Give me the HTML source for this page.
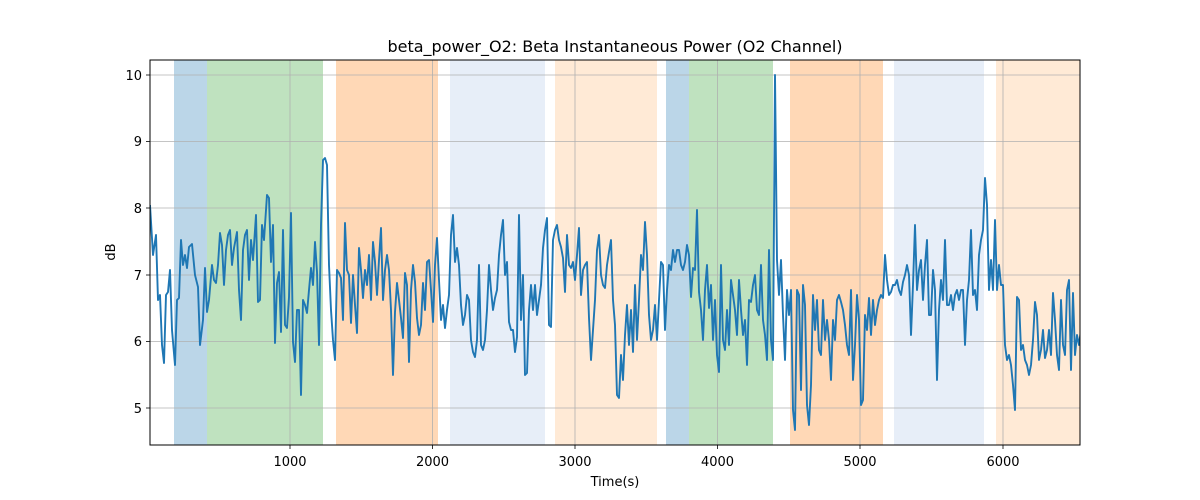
<!DOCTYPE html>
<html><head><meta charset="utf-8"><style>body{margin:0;background:#fff}svg{display:block}text{font-family:"DejaVu Sans","Liberation Sans",sans-serif;fill:#000}</style></head>
<body>
<svg width="1200" height="500" viewBox="0 0 1200 500" xmlns="http://www.w3.org/2000/svg">
<rect width="1200" height="500" fill="#fff"/>
<g>
<rect x="174" y="60" width="33" height="385" fill="#1f77b4" opacity="0.3"/>
<rect x="207" y="60" width="116" height="385" fill="#2ca02c" opacity="0.3"/>
<rect x="336" y="60" width="102" height="385" fill="#ff7f0e" opacity="0.3"/>
<rect x="450" y="60" width="95" height="385" fill="#aec7e8" opacity="0.3"/>
<rect x="555" y="60" width="102" height="385" fill="#ffbb78" opacity="0.3"/>
<rect x="666" y="60" width="23" height="385" fill="#1f77b4" opacity="0.3"/>
<rect x="689" y="60" width="84" height="385" fill="#2ca02c" opacity="0.3"/>
<rect x="790" y="60" width="93" height="385" fill="#ff7f0e" opacity="0.3"/>
<rect x="894" y="60" width="90" height="385" fill="#aec7e8" opacity="0.3"/>
<rect x="996" y="60" width="84" height="385" fill="#ffbb78" opacity="0.3"/>
</g>
<g stroke="#b0b0b0" stroke-width="0.8">
<line x1="290" y1="60" x2="290" y2="445"/><line x1="432.5" y1="60" x2="432.5" y2="445"/><line x1="575" y1="60" x2="575" y2="445"/><line x1="717.5" y1="60" x2="717.5" y2="445"/><line x1="860" y1="60" x2="860" y2="445"/><line x1="1003" y1="60" x2="1003" y2="445"/>
<line x1="150" y1="408" x2="1080" y2="408"/><line x1="150" y1="341.5" x2="1080" y2="341.5"/><line x1="150" y1="275" x2="1080" y2="275"/><line x1="150" y1="208" x2="1080" y2="208"/><line x1="150" y1="141.5" x2="1080" y2="141.5"/><line x1="150" y1="75" x2="1080" y2="75"/>
</g>
<svg x="150" y="60" width="930" height="385" viewBox="150 60 930 385" overflow="hidden">
<polyline fill="none" stroke="#1f77b4" stroke-width="1.9" stroke-linejoin="round" points="150,205 153,255 156,235 158,300 160,295 162,345 164,363 166,295 168,292 170,270 172,330 175,365 177,300 179,298 181,240 183,265 185,255 187,268 189,247 192,244 195,275 198,287 200,345 203,320 205,268 207,312 209,300 212,265 214,280 216,283 218,265 220,233 222,245 224,285 226,250 228,235 230,230 232,265 234,248 237,232 239,290 241,320 243,250 245,235 247,230 249,280 251,240 253,260 256,215 258,302 260,300 262,225 264,240 267,195 269,198 271,262 273,225 275,343 277,283 279,272 281,332 283,230 285,325 287,328 289,297 291,213 293,342 295,362 297,310 299,310 301,395 303,300 305,305 307,313 309,290 311,268 313,285 315,242 317,272 319,345 321,225 323,160 325,158 327,165 329,265 331,310 333,340 335,360 337,270 339,273 341,278 343,320 345,223 347,270 349,275 351,323 353,275 355,305 357,333 359,248 361,270 363,298 365,270 367,285 369,255 371,300 373,242 375,262 377,295 379,260 381,228 383,300 385,270 387,255 389,270 391,310 393,375 395,312 397,283 399,300 401,318 403,338 405,273 407,285 409,362 411,290 413,265 415,282 417,318 419,335 421,325 423,283 425,310 427,262 429,260 431,290 433,322 435,265 437,238 439,280 441,320 443,305 445,328 447,310 449,295 451,235 453,215 455,262 457,248 459,265 461,305 463,325 465,315 467,295 469,300 471,340 473,352 475,357 477,340 479,265 481,345 483,350 485,340 487,310 489,265 491,290 493,310 495,298 497,290 499,255 501,235 503,220 505,275 507,262 509,322 511,330 513,330 515,352 517,337 519,215 521,320 523,275 525,375 527,373 529,310 531,285 533,310 535,285 537,315 539,300 541,285 543,248 545,230 547,218 549,325 551,327 553,240 555,230 557,225 559,240 561,247 563,258 565,292 567,235 569,265 571,268 573,262 575,280 577,255 579,228 581,295 583,270 585,265 587,262 589,318 591,360 593,330 595,300 597,250 599,235 601,275 603,285 605,288 607,265 609,252 611,240 613,300 615,325 617,395 619,398 621,355 623,380 625,335 627,305 629,345 631,310 633,352 635,285 637,340 639,300 641,255 643,270 645,222 647,255 649,315 651,340 653,330 655,305 657,340 659,300 661,262 663,265 665,330 667,290 669,265 671,270 673,250 675,262 677,250 679,250 681,265 683,270 685,262 687,245 689,255 691,297 693,268 695,270 697,210 699,292 701,310 703,340 705,290 707,265 709,308 711,285 713,340 715,300 717,355 719,372 721,265 723,340 725,350 727,310 729,345 731,280 733,295 735,310 737,335 739,280 741,310 743,335 745,320 747,365 749,300 751,302 753,285 755,275 757,310 759,315 761,265 763,320 765,335 767,360 769,250 771,340 773,360 775,75 777,260 779,295 781,260 783,315 785,360 787,290 789,315 791,290 793,410 795,430 797,290 799,295 801,390 803,285 805,305 807,405 809,425 811,385 813,295 815,330 817,300 819,350 821,355 823,300 825,340 827,320 829,340 831,380 833,320 835,340 837,300 839,295 841,302 843,310 845,325 847,345 849,355 851,290 853,380 855,345 857,295 859,320 861,405 863,400 865,315 867,330 869,298 871,335 873,300 875,325 877,310 879,300 881,295 883,298 885,255 887,280 889,295 891,292 893,285 895,285 897,280 899,290 901,295 903,282 905,275 907,265 909,275 911,335 913,285 915,225 917,290 919,270 921,260 923,300 925,265 927,240 929,315 931,315 933,270 935,290 937,380 939,310 941,280 943,300 945,240 947,305 949,305 951,295 953,310 955,295 957,290 959,300 961,290 963,290 965,345 967,300 969,280 971,230 973,295 975,290 977,310 979,255 981,240 983,230 985,178 987,205 989,290 991,260 993,290 995,220 997,290 999,265 1001,285 1003,285 1005,345 1007,360 1009,355 1011,365 1013,385 1015,410 1017,297 1019,300 1021,350 1023,345 1025,360 1027,365 1029,375 1031,365 1033,340 1035,302 1037,315 1039,360 1041,350 1043,330 1045,358 1047,350 1049,330 1051,355 1053,293 1055,320 1057,355 1059,370 1061,300 1063,345 1065,355 1067,290 1069,280 1071,370 1073,293 1075,355 1077,335 1079,345 1081,330"/>
</svg>
<rect x="150" y="60" width="930" height="385" fill="none" stroke="#000" stroke-width="1"/>
<g stroke="#000" stroke-width="0.8">
<line x1="290" y1="445" x2="290" y2="449"/><line x1="432.5" y1="445" x2="432.5" y2="449"/><line x1="575" y1="445" x2="575" y2="449"/><line x1="717.5" y1="445" x2="717.5" y2="449"/><line x1="860" y1="445" x2="860" y2="449"/><line x1="1003" y1="445" x2="1003" y2="449"/>
<line x1="146" y1="408" x2="150" y2="408"/><line x1="146" y1="341.5" x2="150" y2="341.5"/><line x1="146" y1="275" x2="150" y2="275"/><line x1="146" y1="208" x2="150" y2="208"/><line x1="146" y1="141.5" x2="150" y2="141.5"/><line x1="146" y1="75" x2="150" y2="75"/>
</g>
<g font-size="13" text-anchor="middle">
<text x="290" y="466">1000</text><text x="432.5" y="466">2000</text><text x="575" y="466">3000</text><text x="717.5" y="466">4000</text><text x="860" y="466">5000</text><text x="1003" y="466">6000</text>
<text x="615" y="486">Time(s)</text>
</g>
<g font-size="13" text-anchor="end">
<text x="142" y="413">5</text><text x="142" y="346">6</text><text x="142" y="280">7</text><text x="142" y="213">8</text><text x="142" y="146">9</text><text x="142" y="80">10</text>
</g>
<text x="115" y="252" font-size="13" text-anchor="middle" transform="rotate(-90 115 252)">dB</text>
<text x="615" y="52" font-size="16" text-anchor="middle">beta_power_O2: Beta Instantaneous Power (O2 Channel)</text>
</svg>
</body></html>
